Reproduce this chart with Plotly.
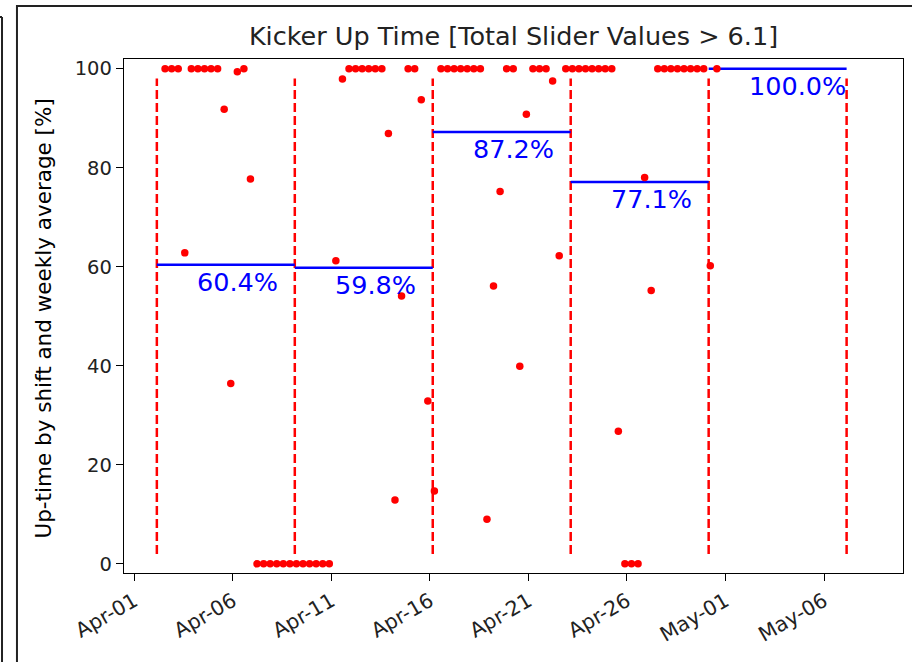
import datetime as dt
import plotly.graph_objects as go

# shift up-time readings
shift_time = [
    "2018-04-02 13:30", "2018-04-02 21:30", "2018-04-03 05:30", "2018-04-03 13:30",
    "2018-04-03 21:30", "2018-04-04 05:30", "2018-04-04 13:30", "2018-04-04 21:30",
    "2018-04-05 05:30", "2018-04-05 13:30", "2018-04-05 21:30", "2018-04-06 05:30",
    "2018-04-06 13:30", "2018-04-06 21:30", "2018-04-07 05:30", "2018-04-07 13:30",
    "2018-04-07 21:30", "2018-04-08 05:30", "2018-04-08 13:30", "2018-04-08 21:30",
    "2018-04-09 05:30", "2018-04-09 13:30", "2018-04-09 21:30", "2018-04-10 05:30",
    "2018-04-10 13:30", "2018-04-10 21:30", "2018-04-11 05:30", "2018-04-11 13:30",
    "2018-04-11 21:30", "2018-04-12 05:30", "2018-04-12 13:30", "2018-04-12 21:30",
    "2018-04-13 05:30", "2018-04-13 13:30", "2018-04-13 21:30", "2018-04-14 05:30",
    "2018-04-14 13:30", "2018-04-14 21:30", "2018-04-15 05:30", "2018-04-15 13:30",
    "2018-04-15 21:30", "2018-04-16 05:30", "2018-04-16 13:30", "2018-04-16 21:30",
    "2018-04-17 05:30", "2018-04-17 13:30", "2018-04-17 21:30", "2018-04-18 05:30",
    "2018-04-18 13:30", "2018-04-18 21:30", "2018-04-19 05:30", "2018-04-19 13:30",
    "2018-04-19 21:30", "2018-04-20 05:30", "2018-04-20 13:30", "2018-04-20 21:30",
    "2018-04-21 05:30", "2018-04-21 13:30", "2018-04-21 21:30", "2018-04-22 05:30",
    "2018-04-22 13:30", "2018-04-22 21:30", "2018-04-23 05:30", "2018-04-23 13:30",
    "2018-04-23 21:30", "2018-04-24 05:30", "2018-04-24 13:30", "2018-04-24 21:30",
    "2018-04-25 05:30", "2018-04-25 13:30", "2018-04-25 21:30", "2018-04-26 05:30",
    "2018-04-26 13:30", "2018-04-26 21:30", "2018-04-27 05:30", "2018-04-27 13:30",
    "2018-04-27 21:30", "2018-04-28 05:30", "2018-04-28 13:30", "2018-04-28 21:30",
    "2018-04-29 05:30", "2018-04-29 13:30", "2018-04-29 21:30", "2018-04-30 05:30",
    "2018-04-30 13:30",
]
uptime = [
    100, 100, 100, 62.8,
    100, 100, 100, 100,
    100, 91.8, 36.4, 99.4,
    100, 77.7, 0, 0,
    0, 0, 0, 0,
    0, 0, 0, 0,
    0, 0, 61.2, 97.9,
    100, 100, 100, 100,
    100, 100, 86.9, 12.9,
    54.1, 100, 100, 93.7,
    32.9, 14.7, 100, 100,
    100, 100, 100, 100,
    100, 9.0, 56.1, 75.2,
    100, 100, 39.9, 90.8,
    100, 100, 100, 97.5,
    62.2, 100, 100, 100,
    100, 100, 100, 100,
    100, 26.8, 0, 0,
    0, 78.0, 55.2, 100,
    100, 100, 100, 100,
    100, 100, 100, 60.2,
    100,
]

# week boundaries and weekly averages
week_edges = ["2018-04-02 03:30", "2018-04-09 03:30", "2018-04-16 03:30",
              "2018-04-23 03:30", "2018-04-30 03:30", "2018-05-07 03:30"]
week_avg = [60.4, 59.8, 87.2, 77.1, 100.0]

title = "Kicker Up Time [Total Slider Values > 6.1]"
ylabel = "Up-time by shift and weekly average [%]"

FONT = "DejaVu Sans"

fig = go.Figure()

for edge in week_edges:
    fig.add_trace(go.Scatter(
        x=[edge, edge], y=[2, 98], mode="lines",
        line=dict(color="red", width=2.5, dash="9px,4px"),
        hoverinfo="skip"))

for i, avg in enumerate(week_avg):
    fig.add_trace(go.Scatter(
        x=[week_edges[i], week_edges[i + 1]], y=[avg, avg], mode="lines",
        line=dict(color="blue", width=2.5), hoverinfo="skip"))
    start = dt.datetime.strptime(week_edges[i], "%Y-%m-%d %H:%M")
    fig.add_annotation(
        x=start + dt.timedelta(days=1.95), y=avg, text=f"{avg:.1f}%",
        showarrow=False, xanchor="left", yanchor="top",
        font=dict(family=FONT, size=25.5, color="blue"))

fig.add_trace(go.Scatter(
    x=shift_time, y=uptime, mode="markers",
    marker=dict(color="red", size=7.5), hoverinfo="x+y"))

# frame of the window around the chart
fig.add_shape(type="rect", xref="paper", yref="paper",
              x0=-0.1374, x1=1.02, y0=-0.2, y1=1.103,
              line=dict(color="#222", width=2))
fig.add_shape(type="line", xref="paper", yref="paper",
              x0=-0.1566, x1=-0.1566, y0=-0.2, y1=1.0817,
              line=dict(color="#222", width=2))
fig.add_shape(type="line", xref="paper", yref="paper",
              x0=-0.17, x1=-0.1566, y0=1.0817, y1=1.0817,
              line=dict(color="#222", width=2))

fig.add_annotation(
    x=-0.1027, y=0.495, xref="paper", yref="paper", text=ylabel,
    textangle=-90, showarrow=False, xanchor="center", yanchor="middle",
    font=dict(family=FONT, size=21.5, color="black"))

fig.update_layout(
    width=912, height=662,
    margin=dict(l=124, r=9, t=59, b=89),
    paper_bgcolor="white", plot_bgcolor="white",
    showlegend=False,
    font=dict(family=FONT, size=19.5, color="black"),
    title=dict(text=title, x=0.5, xref="paper", y=1 - 36 / 662,
               yref="container", xanchor="center", yanchor="middle",
               font=dict(family=FONT, size=25.5, color="#222")),
    xaxis=dict(
        type="date", range=["2018-03-31 11:30", "2018-05-10 00:10"],
        tick0="2018-04-01", dtick=5 * 86400000, tickformat="%b-%d",
        tickangle=-30, ticks="outside", ticklen=7, tickwidth=1.3,
        tickcolor="black", showline=True, linecolor="black", linewidth=1.3,
        mirror=True, showgrid=False, zeroline=False,
        tickfont=dict(family=FONT, size=20.5, color="#222")),
    yaxis=dict(
        range=[-1.85, 101.95], tickvals=[0, 20, 40, 60, 80, 100],
        ticks="outside", ticklen=7, tickwidth=1.3, tickcolor="black",
        showline=True, linecolor="black", linewidth=1.3, mirror=True,
        showgrid=False, zeroline=False,
        tickfont=dict(family=FONT, size=19.5, color="#222")),
)

# the page body has a default 8px margin; drop it so the figure sits at 0,0
fig.write_html("out.html", config={"displayModeBar": False},
               post_script="document.body.style.margin = '0';")
